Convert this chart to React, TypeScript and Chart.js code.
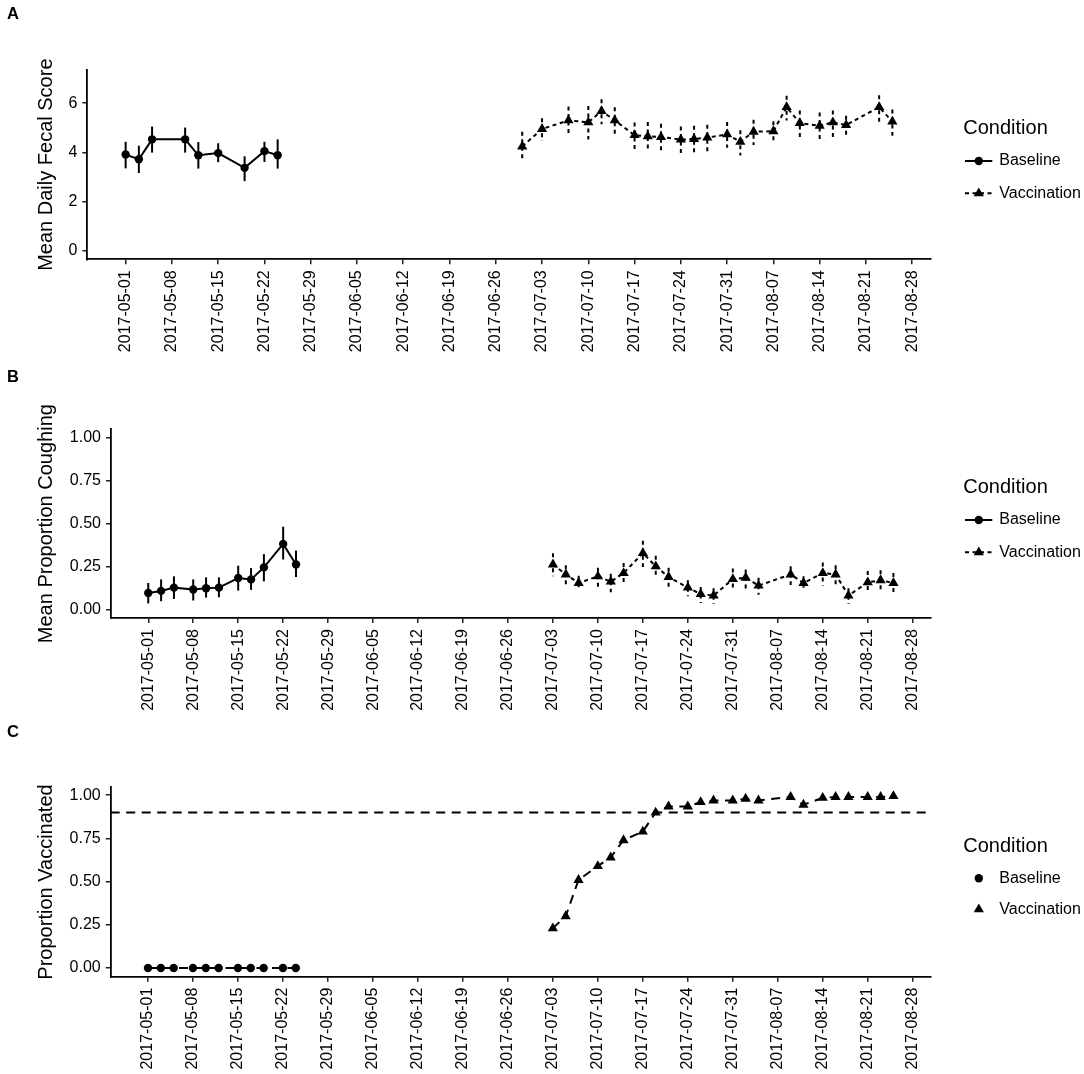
import React, { useEffect, useRef } from "react";
import { Chart, registerables } from "chart.js";

Chart.register(...registerables);
Chart.defaults.font.family = '"Liberation Sans", Arial, Helvetica, sans-serif';

// ---------- data ----------
const weekTicks = [
  "2017-05-01", "2017-05-08", "2017-05-15", "2017-05-22", "2017-05-29", "2017-06-05",
  "2017-06-12", "2017-06-19", "2017-06-26", "2017-07-03", "2017-07-10", "2017-07-17",
  "2017-07-24", "2017-07-31", "2017-08-07", "2017-08-14", "2017-08-21", "2017-08-28",
];

const conditions = ["Baseline", "Vaccination"];

// Panel A: mean daily fecal score
const fecalBaseDates = ["2017-05-01", "2017-05-03", "2017-05-05", "2017-05-10", "2017-05-12", "2017-05-15", "2017-05-19", "2017-05-22", "2017-05-24"];
const fecalBaseMean = [3.91, 3.72, 4.53, 4.53, 3.88, 3.97, 3.37, 4.05, 3.88];
const fecalBaseLo = [3.35, 3.16, 3.99, 3.99, 3.34, 3.6, 2.83, 3.61, 3.34];
const fecalBaseHi = [4.43, 4.27, 5.05, 5.01, 4.42, 4.37, 3.84, 4.43, 4.53];

const fecalVacDates = [
  "2017-06-30", "2017-07-03", "2017-07-07", "2017-07-10", "2017-07-12", "2017-07-14", "2017-07-17", "2017-07-19",
  "2017-07-21", "2017-07-24", "2017-07-26", "2017-07-28", "2017-07-31", "2017-08-02", "2017-08-04", "2017-08-07",
  "2017-08-09", "2017-08-11", "2017-08-14", "2017-08-16", "2017-08-18", "2017-08-23", "2017-08-25",
];
const fecalVacMean = [4.24, 4.95, 5.3, 5.22, 5.68, 5.3, 4.7, 4.65, 4.62, 4.52, 4.54, 4.6, 4.73, 4.43, 4.84, 4.86, 5.84, 5.19, 5.08, 5.22, 5.11, 5.84, 5.25];
const fecalVacLo = [3.7, 4.46, 4.73, 4.52, 5.14, 4.7, 4.14, 4.11, 4.08, 3.95, 4.0, 4.03, 4.19, 3.87, 4.3, 4.43, 5.3, 4.54, 4.49, 4.62, 4.62, 5.22, 4.68];
const fecalVacHi = [4.84, 5.39, 5.87, 5.89, 6.16, 5.83, 5.21, 5.23, 5.16, 5.05, 5.08, 5.12, 5.23, 4.9, 5.33, 5.27, 6.3, 5.7, 5.62, 5.7, 5.49, 6.32, 5.74];

// Panel B: mean proportion coughing
const coughBaseDates = ["2017-05-01", "2017-05-03", "2017-05-05", "2017-05-08", "2017-05-10", "2017-05-12", "2017-05-15", "2017-05-17", "2017-05-19", "2017-05-22", "2017-05-24"];
const coughBaseMean = [0.096, 0.108, 0.127, 0.116, 0.123, 0.127, 0.183, 0.175, 0.245, 0.382, 0.262];
const coughBaseLo = [0.035, 0.048, 0.061, 0.052, 0.069, 0.071, 0.11, 0.114, 0.164, 0.291, 0.189];
const coughBaseHi = [0.154, 0.175, 0.193, 0.175, 0.187, 0.187, 0.255, 0.241, 0.322, 0.482, 0.343];

const coughVacDates = [
  "2017-07-03", "2017-07-05", "2017-07-07", "2017-07-10", "2017-07-12", "2017-07-14", "2017-07-17", "2017-07-19",
  "2017-07-21", "2017-07-24", "2017-07-26", "2017-07-28", "2017-07-31", "2017-08-02", "2017-08-04", "2017-08-09",
  "2017-08-11", "2017-08-14", "2017-08-16", "2017-08-18", "2017-08-21", "2017-08-23", "2017-08-25",
];
const coughVacMean = [0.262, 0.204, 0.154, 0.193, 0.162, 0.212, 0.328, 0.251, 0.189, 0.127, 0.089, 0.081, 0.177, 0.185, 0.139, 0.204, 0.154, 0.212, 0.204, 0.081, 0.158, 0.17, 0.154];
const coughVacLo = [0.193, 0.142, 0.116, 0.131, 0.1, 0.142, 0.247, 0.181, 0.123, 0.077, 0.038, 0.031, 0.108, 0.119, 0.085, 0.142, 0.119, 0.139, 0.139, 0.031, 0.093, 0.1, 0.096];
const coughVacHi = [0.328, 0.258, 0.197, 0.243, 0.208, 0.27, 0.401, 0.313, 0.243, 0.17, 0.131, 0.123, 0.239, 0.232, 0.185, 0.251, 0.193, 0.274, 0.258, 0.123, 0.224, 0.228, 0.212];

// Panel C: proportion vaccinated
const vaccBaseDates = coughBaseDates;
const vaccBaseValues = [0, 0, 0, 0, 0, 0, 0, 0, 0, 0, 0];
const vaccVacDates = coughVacDates;
const vaccVacValues = [0.23, 0.3, 0.51, 0.59, 0.64, 0.74, 0.79, 0.9, 0.935, 0.935, 0.96, 0.97, 0.97, 0.98, 0.97, 0.99, 0.945, 0.985, 0.99, 0.99, 0.99, 0.99, 0.995];
const vaccTarget = 0.9;

const fecalTicks = [0, 2, 4, 6];
const propTicks = [0, 0.25, 0.5, 0.75, 1];

// ---------- helpers ----------
const ORIGIN = Date.UTC(2017, 4, 1);
const dayOf = (s: string) => {
  const [y, m, d] = s.split("-").map(Number);
  return (Date.UTC(y, m - 1, d) - ORIGIN) / 86400000;
};
const X_MIN = -5.8;
const X_MAX = 121.8;
const W = 1084;
const PLOT_RIGHT = 930.7;
const FONT = '"Liberation Sans", Arial, Helvetica, sans-serif';

type Series = { dates: string[]; values: number[]; marker: "circle" | "triangle"; dash: number[] };
type ErrSet = { dates: string[]; lo: number[]; hi: number[]; dash: number[] };
type PanelCfg = {
  top: number;
  height: number;
  plotLeft: number;
  plotTop: number;
  plotBottom: number;
  yMin: number;
  yMax: number;
  yTicks: number[];
  yDigits: number;
  yTitle: string;
  letter: string;
  letterY: number;
  legendMode: "line" | "point";
  legendY: number[];
  legendDash: number[][];
  series: Series[];
  errors: ErrSet[];
  hline?: number;
  hlineDash?: number[];
};

const SHORT_DASH = [4, 3.5];
const LONG_DASH = [9, 6.5];

const panels: PanelCfg[] = [
  {
    top: 0, height: 357, plotLeft: 87.3, plotTop: 70, plotBottom: 259.3,
    yMin: -0.35, yMax: 7.35, yTicks: fecalTicks, yDigits: 0,
    yTitle: "Mean Daily Fecal Score", letter: "A", letterY: 14,
    legendMode: "line", legendY: [128.3, 161, 193.3], legendDash: [[], SHORT_DASH],
    series: [
      { dates: fecalBaseDates, values: fecalBaseMean, marker: "circle", dash: [] },
      { dates: fecalVacDates, values: fecalVacMean, marker: "triangle", dash: SHORT_DASH },
    ],
    errors: [
      { dates: fecalBaseDates, lo: fecalBaseLo, hi: fecalBaseHi, dash: [] },
      { dates: fecalVacDates, lo: fecalVacLo, hi: fecalVacHi, dash: SHORT_DASH },
    ],
  },
  {
    top: 357, height: 357, plotLeft: 111, plotTop: 429.3, plotBottom: 618,
    yMin: -0.05, yMax: 1.05, yTicks: propTicks, yDigits: 2,
    yTitle: "Mean Proportion Coughing", letter: "B", letterY: 377,
    legendMode: "line", legendY: [487.3, 520, 552.3], legendDash: [[], SHORT_DASH],
    series: [
      { dates: coughBaseDates, values: coughBaseMean, marker: "circle", dash: [] },
      { dates: coughVacDates, values: coughVacMean, marker: "triangle", dash: SHORT_DASH },
    ],
    errors: [
      { dates: coughBaseDates, lo: coughBaseLo, hi: coughBaseHi, dash: [] },
      { dates: coughVacDates, lo: coughVacLo, hi: coughVacHi, dash: SHORT_DASH },
    ],
  },
  {
    top: 714, height: 360, plotLeft: 110.7, plotTop: 787.3, plotBottom: 976.7,
    yMin: -0.05, yMax: 1.046, yTicks: propTicks, yDigits: 2,
    yTitle: "Proportion Vaccinated", letter: "C", letterY: 732,
    legendMode: "point", legendY: [846.7, 878.3, 909.3], legendDash: [[], []],
    series: [
      { dates: vaccBaseDates, values: vaccBaseValues, marker: "circle", dash: LONG_DASH },
      { dates: vaccVacDates, values: vaccVacValues, marker: "triangle", dash: LONG_DASH },
    ],
    errors: [],
    hline: vaccTarget,
    hlineDash: LONG_DASH,
  },
];

const CIRCLE_R = 4.2;
const TRI_R = 5.9;

function drawMarker(ctx: CanvasRenderingContext2D, kind: "circle" | "triangle", x: number, y: number) {
  ctx.save();
  ctx.fillStyle = "#000";
  ctx.beginPath();
  if (kind === "circle") {
    ctx.arc(x, y, CIRCLE_R, 0, Math.PI * 2);
  } else {
    for (let k = 0; k < 3; k++) {
      const a = (k * 2 * Math.PI) / 3;
      const px = x + Math.sin(a) * TRI_R;
      const py = y - Math.cos(a) * TRI_R;
      if (k === 0) ctx.moveTo(px, py);
      else ctx.lineTo(px, py);
    }
    ctx.closePath();
  }
  ctx.fill();
  ctx.restore();
}

function Panel({ cfg }: { cfg: PanelCfg }) {
  const ref = useRef<HTMLCanvasElement | null>(null);

  useEffect(() => {
    const canvas = ref.current;
    if (!canvas) return;

    const datasets = cfg.series.map((s, i) => ({
      label: conditions[i],
      data: s.dates.map((d, j) => ({ x: dayOf(d), y: s.values[j] })),
      borderColor: "#000",
      backgroundColor: "#000",
      borderWidth: 2,
      borderDash: s.dash,
      pointStyle: s.marker,
      pointRadius: s.marker === "circle" ? CIRCLE_R : TRI_R,
      pointBorderWidth: 0,
      pointBackgroundColor: "#000",
      pointBorderColor: "#000",
      pointHoverRadius: 0,
      showLine: true,
      tension: 0,
      fill: false,
    }));

    const overlay = {
      id: "overlay",
      beforeDatasetsDraw(chart: any) {
        const ctx: CanvasRenderingContext2D = chart.ctx;
        const xs = chart.scales.x;
        const ys = chart.scales.y;
        ctx.save();
        ctx.strokeStyle = "#000";
        ctx.lineWidth = 2;
        for (const e of cfg.errors) {
          ctx.setLineDash(e.dash);
          e.dates.forEach((d, i) => {
            const px = xs.getPixelForValue(dayOf(d));
            ctx.beginPath();
            ctx.moveTo(px, ys.getPixelForValue(e.hi[i]));
            ctx.lineTo(px, ys.getPixelForValue(e.lo[i]));
            ctx.stroke();
          });
        }
        if (cfg.hline !== undefined) {
          const py = ys.getPixelForValue(cfg.hline);
          ctx.setLineDash(cfg.hlineDash || []);
          ctx.beginPath();
          ctx.moveTo(chart.chartArea.left, py);
          ctx.lineTo(chart.chartArea.right, py);
          ctx.stroke();
        }
        ctx.restore();
      },
      afterDraw(chart: any) {
        const ctx: CanvasRenderingContext2D = chart.ctx;
        const off = cfg.top;
        ctx.save();
        // panel letter
        ctx.fillStyle = "#000";
        ctx.font = `bold 16.5px ${FONT}`;
        ctx.textAlign = "left";
        ctx.textBaseline = "middle";
        ctx.fillText(cfg.letter, 7, cfg.letterY - off);
        // legend
        ctx.font = `20px ${FONT}`;
        ctx.fillText("Condition", 963.3, cfg.legendY[0] - off);
        ctx.font = `16px ${FONT}`;
        conditions.forEach((name, i) => {
          const y = cfg.legendY[i + 1] - off;
          const kind = cfg.series[i].marker;
          if (cfg.legendMode === "line") {
            ctx.save();
            ctx.strokeStyle = "#000";
            ctx.lineWidth = 2;
            ctx.setLineDash(cfg.legendDash[i]);
            ctx.beginPath();
            ctx.moveTo(965, y);
            ctx.lineTo(992.3, y);
            ctx.stroke();
            ctx.restore();
          }
          drawMarker(ctx, kind, 978.8, y);
          ctx.fillStyle = "#000";
          ctx.fillText(name, 999.3, y);
        });
        ctx.restore();
      },
    };

    const tickLabel = (v: number) => {
      const hit = weekTicks.find((d) => Math.abs(dayOf(d) - v) < 1e-6);
      return hit || "";
    };

    const chart = new Chart(canvas, {
      type: "line",
      data: { datasets } as any,
      plugins: [overlay],
      options: {
        animation: false,
        responsive: false,
        events: [],
        layout: {
          padding: { left: 0, right: W - PLOT_RIGHT, top: cfg.plotTop - cfg.top, bottom: 0 },
        },
        plugins: { legend: { display: false }, tooltip: { enabled: false } },
        scales: {
          x: {
            type: "linear",
            min: X_MIN,
            max: X_MAX,
            afterBuildTicks: (s: any) => {
              s.ticks = weekTicks.map((d) => ({ value: dayOf(d) }));
            },
            afterFit: (s: any) => {
              s.height = cfg.top + cfg.height - cfg.plotBottom;
            },
            ticks: {
              autoSkip: false,
              maxRotation: 90,
              minRotation: 90,
              padding: 6,
              color: "#000",
              font: { size: 16 },
              callback: (v: any) => tickLabel(Number(v)),
            },
            grid: { display: true, drawOnChartArea: false, drawTicks: true, tickLength: 5, color: "#222", lineWidth: 1.5 },
            border: { display: true, color: "#000", width: 1.8 },
          },
          y: {
            type: "linear",
            min: cfg.yMin,
            max: cfg.yMax,
            afterBuildTicks: (s: any) => {
              s.ticks = cfg.yTicks.map((v) => ({ value: v }));
            },
            afterFit: (s: any) => {
              s.width = cfg.plotLeft;
            },
            ticks: {
              padding: 5,
              color: "#000",
              font: { size: 16 },
              callback: (v: any) => Number(v).toFixed(cfg.yDigits),
            },
            grid: { display: true, drawOnChartArea: false, drawTicks: true, tickLength: 5, color: "#222", lineWidth: 1.5 },
            border: { display: true, color: "#000", width: 1.8 },
            title: {
              display: true,
              text: cfg.yTitle,
              color: "#000",
              font: { size: 20 },
              padding: { top: 34, bottom: 0 },
            },
          },
        },
      } as any,
    });
    return () => chart.destroy();
  }, [cfg]);

  return (
    <canvas
      ref={ref}
      width={W}
      height={cfg.height}
      style={{ position: "absolute", left: 0, top: cfg.top, width: W, height: cfg.height }}
    />
  );
}

export default function App() {
  return (
    <div style={{ position: "absolute", left: 0, top: 0, width: W, height: 1074, background: "#fff" }}>
      {panels.map((p) => (
        <Panel key={p.letter} cfg={p} />
      ))}
    </div>
  );
}
